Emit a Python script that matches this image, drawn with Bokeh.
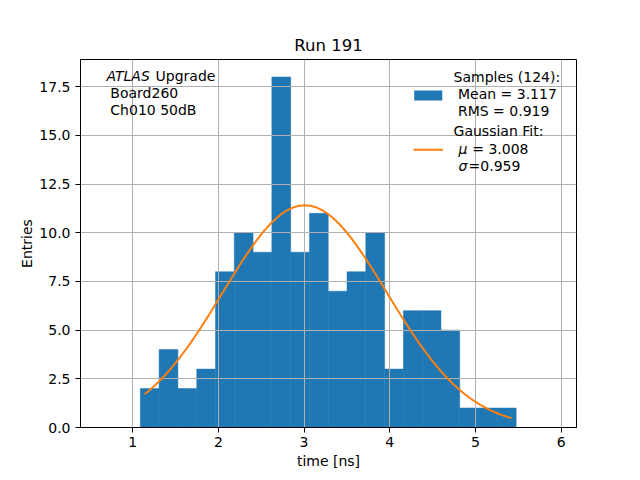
import numpy as np
from bokeh.plotting import figure
from bokeh.models import Label, BoxAnnotation, FixedTicker, PrintfTickFormatter, Range1d
from bokeh.embed import file_html
from bokeh.resources import INLINE

# ---- data ----
bin_edges = [1.090, 1.309, 1.528, 1.748, 1.967, 2.186, 2.405, 2.624, 2.844,
             3.063, 3.282, 3.501, 3.720, 3.940, 4.159, 4.378, 4.597, 4.816,
             5.036, 5.255, 5.474]
counts = [2, 4, 2, 3, 8, 10, 9, 18, 9, 11, 7, 8, 10, 3, 6, 6, 5, 1, 1, 1]

fit_mu = 3.008
fit_sigma = 0.959
fit_amp = 11.41
fit_x_start = 1.14
fit_x_end = 5.42

x_ticks = [1, 2, 3, 4, 5, 6]
y_ticks = [0.0, 2.5, 5.0, 7.5, 10.0, 12.5, 15.0, 17.5]

title_text = "Run 191"
x_label = "time [ns]"
y_label = "Entries"
n_samples = 124
sample_mean = 3.117
sample_rms = 0.919

BLUE = "#1f77b4"
ORANGE = "#ff7f0e"
FONT = "DejaVu Sans"
FS = "14px"

p = figure(width=632, height=472, output_backend="svg", toolbar_location=None,
           x_range=Range1d(0.392, 6.178), y_range=Range1d(0, 18.9),
           min_border_left=80, min_border_right=56, min_border_top=59, min_border_bottom=45)
p.background_fill_color = "white"
p.border_fill_color = "white"
p.outline_line_color = "black"
p.outline_line_alpha = 1.0
p.outline_line_width = 1

p.title.text = title_text
p.title.align = "center"
p.title.text_font = FONT
p.title.text_font_size = "16.5px"
p.title.text_font_style = "normal"
p.title.text_color = "black"

# bars
bars = p.quad(left=bin_edges[:-1], right=bin_edges[1:], top=counts, bottom=0,
              fill_color=BLUE, line_color=BLUE, line_width=0.5)
bars.level = "image"

# gaussian fit curve (from fitted parameters)
fx = np.linspace(fit_x_start, fit_x_end, 300)
fy = fit_amp * np.exp(-(fx - fit_mu) ** 2 / (2 * fit_sigma ** 2))
p.line(fx, fy, line_color=ORANGE, line_width=2)

# axes
for ax in (p.xaxis[0], p.yaxis[0]):
    ax.axis_line_color = "black"
    ax.major_tick_line_color = "black"
    ax.major_tick_out = 5
    ax.major_tick_in = 0
    ax.minor_tick_line_color = None
    ax.major_label_text_font = FONT
    ax.major_label_text_font_size = FS
    ax.major_label_text_color = "black"
    ax.axis_label_text_font = FONT
    ax.axis_label_text_font_size = FS
    ax.axis_label_text_font_style = "normal"
    ax.axis_label_text_color = "black"

p.xaxis.axis_label = x_label
p.yaxis.axis_label = y_label
p.xaxis.ticker = FixedTicker(ticks=x_ticks)
p.yaxis.ticker = FixedTicker(ticks=y_ticks)
p.yaxis.formatter = PrintfTickFormatter(format="%.1f")
p.xaxis.major_label_standoff = 4
p.xaxis.axis_label_standoff = 3
p.yaxis.axis_label_standoff = 1

p.xgrid.ticker = FixedTicker(ticks=x_ticks)
p.ygrid.ticker = FixedTicker(ticks=y_ticks)
for g in (p.xgrid[0], p.ygrid[0]):
    g.grid_line_color = "#b0b0b0"
    g.grid_line_width = 1
    g.grid_line_alpha = 1.0

# text annotations
def lab(x, y, t, style="normal"):
    p.add_layout(Label(x=x, y=y, text=t, text_font=FONT, text_font_size=FS,
                       text_font_style=style, text_color="black",
                       text_baseline="middle", text_align="left"))

lab(0.694, 18.07, "ATLAS", "italic")
lab(1.268, 18.07, "Upgrade")
lab(0.740, 17.16, "Board260")
lab(0.740, 16.33, "Ch010 50dB")

# legend (drawn manually to allow italic symbols)
p.add_layout(BoxAnnotation(left=4.285, right=4.612, bottom=16.80, top=17.31,
                           fill_color=BLUE, fill_alpha=1.0, line_color=None, level="overlay"))
p.add_layout(BoxAnnotation(left=4.277, right=4.620, bottom=14.21, top=14.31,
                           fill_color=ORANGE, fill_alpha=1.0, line_color=None, level="overlay"))
lab(4.744, 17.98, f"Samples ({n_samples}):")
lab(4.795, 17.13, f"Mean = {sample_mean:.3f}")
lab(4.795, 16.27, f"RMS = {sample_rms:.3f}")
lab(4.744, 15.25, "Gaussian Fit:")
lab(4.802, 14.31, "μ", "italic")
lab(4.962, 14.31, f"= {fit_mu:.3f}")
lab(4.802, 13.41, "σ", "italic")
lab(4.919, 13.41, f"={fit_sigma:.3f}")

open("out.html", "w").write(file_html(p, INLINE))
